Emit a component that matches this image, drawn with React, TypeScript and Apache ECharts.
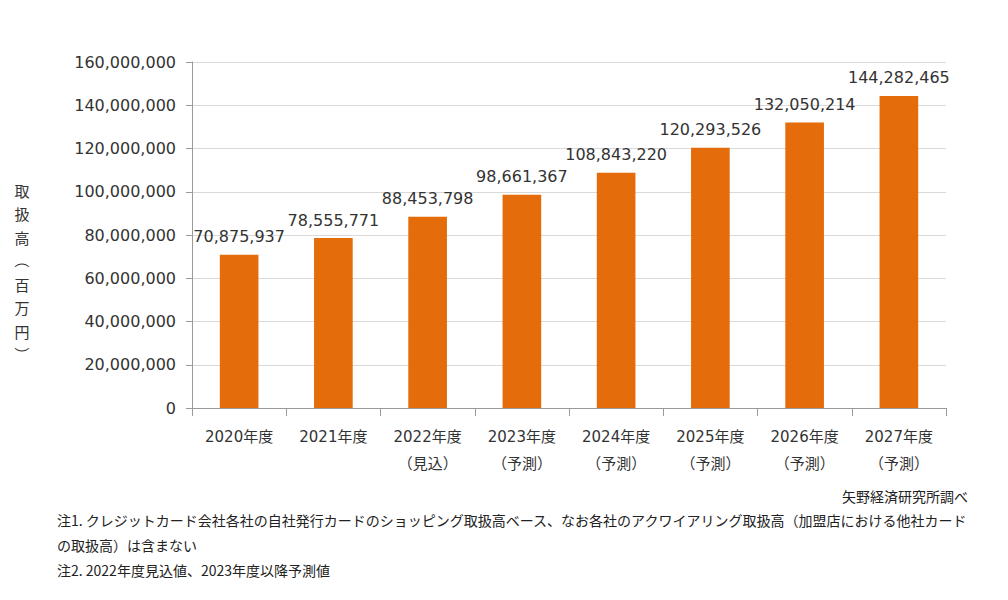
import React, { useEffect, useRef } from "react";
import * as echarts from "echarts";

const categories = [
  "2020年度",
  "2021年度",
  "2022年度\n（見込）",
  "2023年度\n（予測）",
  "2024年度\n（予測）",
  "2025年度\n（予測）",
  "2026年度\n（予測）",
  "2027年度\n（予測）",
];
const values = [70875937, 78555771, 88453798, 98661367, 108843220, 120293526, 132050214, 144282465];
const yAxisNameChars = ["取", "扱", "高", "（", "百", "万", "円", "）"];
const source = "矢野経済研究所調べ";
const notes = [
  "注1. クレジットカード会社各社の自社発行カードのショッピング取扱高ベース、なお各社のアクワイアリング取扱高（加盟店における他社カード",
  "の取扱高）は含まない",
  "注2. 2022年度見込値、2023年度以降予測値",
];

const FONT = "'DejaVu Sans', 'Noto Sans CJK JP', sans-serif";
const CJK = "'Noto Sans CJK JP', sans-serif";
const TEXT = "#333333";

const fmt = (v: number) => v.toLocaleString("en-US");

export default function App() {
  const ref = useRef<HTMLDivElement>(null);
  useEffect(() => {
    if (!ref.current) return;
    const chart = echarts.init(ref.current, undefined, { renderer: "svg" });
    const nameEls = yAxisNameChars.map((c, i) => {
      const isParen = c === "（" || c === "）";
      return {
        type: "text",
        x: 22,
        y: 190 + i * 23.5,
        rotation: isParen ? -Math.PI / 2 : 0,
        style: {
          text: c,
          fontSize: 15,
          fontFamily: CJK,
          fill: TEXT,
          align: "center",
          verticalAlign: "middle",
        },
      };
    });
    chart.setOption({
      animation: false,
      grid: { left: 192, right: 62, top: 62, bottom: 192, containLabel: false },
      xAxis: {
        type: "category",
        data: categories,
        axisLine: { lineStyle: { color: "#9a9a9a", width: 1 } },
        axisTick: { show: true, alignWithLabel: false, length: 8, lineStyle: { color: "#9a9a9a" } },
        axisLabel: {
          color: TEXT,
          fontSize: 15,
          fontFamily: FONT,
          lineHeight: 27,
          margin: 15,
          interval: 0,
        },
      },
      yAxis: {
        type: "value",
        min: 0,
        max: 160000000,
        interval: 20000000,
        axisLine: { show: true, lineStyle: { color: "#9a9a9a", width: 1 } },
        axisTick: { show: true, length: 6, lineStyle: { color: "#9a9a9a" } },
        splitLine: { lineStyle: { color: "#d9d9d9", width: 1 } },
        axisLabel: {
          color: TEXT,
          fontSize: 16,
          fontFamily: FONT,
          margin: 16,
          formatter: (v: number) => fmt(v),
        },
      },
      series: [
        {
          type: "bar",
          data: values,
          barWidth: "41%",
          itemStyle: { color: "#E46C0A" },
          label: {
            show: true,
            position: "top",
            distance: 10,
            color: TEXT,
            fontSize: 16,
            fontFamily: FONT,
            formatter: (p: any) => fmt(p.value),
          },
        },
      ],
      graphic: [
        ...nameEls,
        {
          type: "text",
          right: 40,
          top: 489,
          style: { text: source, fontSize: 14, fontFamily: CJK, fill: "#222" },
        },
        ...notes.map((t, i) => ({
          type: "text",
          left: 57,
          top: 513 + i * 25,
          style: { text: t, fontSize: 14, fontFamily: CJK, fill: "#222" },
        })),
      ],
    });
    return () => chart.dispose();
  }, []);
  return <div ref={ref} style={{ width: 1008, height: 600, margin: -8 }} />;
}
